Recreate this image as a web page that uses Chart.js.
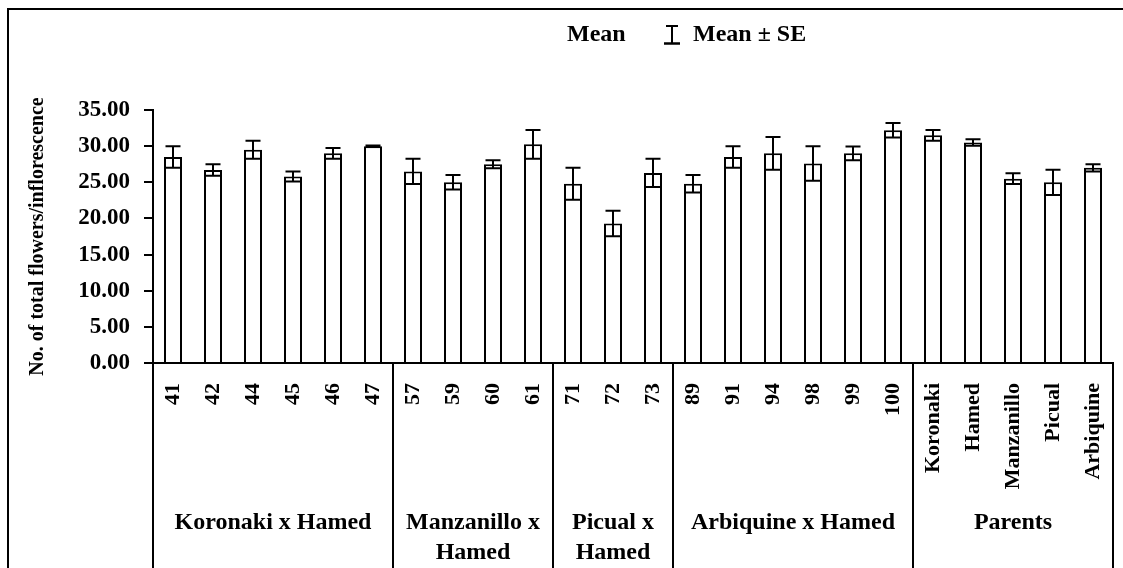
<!DOCTYPE html>
<html>
<head>
<meta charset="utf-8">
<script src="https://cdn.jsdelivr.net/npm/chart.js@4.4.1/dist/chart.umd.min.js"></script>
<style>
  html, body { margin: 0; padding: 0; background: #fff; }
  #wrap { width: 1123px; height: 568px; position: relative; }
</style>
</head>
<body>
<div id="wrap"><canvas id="c" width="1123" height="568"></canvas></div>
<script>
// ---- data ----
const categories = ["41","42","44","45","46","47","57","59","60","61","71","72","73","89","91","94","98","99","100","Koronaki","Hamed","Manzanillo","Picual","Arbiquine"];
const meanValues = [28.5, 26.7, 29.5, 25.8, 29.0, 30.0, 26.5, 25.0, 27.5, 30.25, 24.8, 19.3, 26.3, 24.8, 28.5, 29.0, 27.6, 29.0, 32.2, 31.5, 30.5, 25.5, 25.0, 27.0];
const seValues   = [1.5, 0.8, 1.25, 0.7, 0.75, 0.1, 1.75, 1.0, 0.55, 2.0, 2.2, 1.75, 1.95, 1.2, 1.5, 2.25, 2.4, 0.95, 1.0, 0.75, 0.45, 0.75, 1.75, 0.5];
const groupLabels = [["Koronaki x Hamed"], ["Manzanillo x", "Hamed"], ["Picual x", "Hamed"], ["Arbiquine x Hamed"], ["Parents"]];
const groupSizes = [6, 4, 3, 6, 5];
const yTickMin = 0, yTickMax = 35, yTickStep = 5;
const yAxisTitle = "No. of total flowers/inflorescence";
const legendMean = "Mean";
const legendSE = "Mean \u00b1 SE";

const FONT = "'Liberation Serif', 'Times New Roman', serif";

const framePlugin = {
  id: 'frame',
  beforeDraw(chart) {
    const ctx = chart.ctx;
    ctx.save();
    ctx.fillStyle = '#fff';
    ctx.fillRect(0, 0, chart.width, chart.height);
    ctx.strokeStyle = '#000';
    ctx.lineWidth = 2;
    ctx.strokeRect(8, 9, chart.width + 20, chart.height + 20);
    ctx.restore();
  }
};

const errorBarPlugin = {
  id: 'errorBars',
  afterDatasetsDraw(chart) {
    const ctx = chart.ctx;
    const y = chart.scales.y;
    const meta = chart.getDatasetMeta(0);
    ctx.save();
    ctx.strokeStyle = '#000';
    ctx.lineWidth = 2;
    const cap = 7.5;
    meta.data.forEach((bar, i) => {
      const m = meanValues[i], s = seValues[i];
      const yt = y.getPixelForValue(m + s);
      const yb = y.getPixelForValue(m - s);
      const x = bar.x;
      ctx.beginPath();
      ctx.moveTo(x, yt); ctx.lineTo(x, yb);
      ctx.moveTo(x - cap, yt); ctx.lineTo(x + cap, yt);
      ctx.moveTo(x - cap, yb); ctx.lineTo(x + cap, yb);
      ctx.stroke();
    });
    ctx.restore();
  }
};

const groupPlugin = {
  id: 'groups',
  afterDraw(chart) {
    const ctx = chart.ctx;
    const xs = chart.scales.x;
    const top = chart.chartArea.bottom;
    const bottom = chart.height + 5;
    ctx.save();
    ctx.strokeStyle = '#000';
    ctx.lineWidth = 2;
    let start = 0;
    const bounds = [xs.getPixelForValue(-0.5)];
    groupSizes.forEach(n => { start += n; bounds.push(xs.getPixelForValue(start - 0.5)); });
    bounds.forEach(bx => {
      ctx.beginPath(); ctx.moveTo(bx, top); ctx.lineTo(bx, bottom); ctx.stroke();
    });
    ctx.fillStyle = '#000';
    ctx.font = 'bold 24px ' + FONT;
    ctx.textAlign = 'center';
    ctx.textBaseline = 'middle';
    groupLabels.forEach((lines, g) => {
      const cx = (bounds[g] + bounds[g + 1]) / 2;
      lines.forEach((t, k) => ctx.fillText(t, cx, 523 + k * 30));
    });
    // legend
    ctx.textAlign = 'left';
    ctx.font = 'bold 24px ' + FONT;
    ctx.fillText(legendMean, 567, 35);
    ctx.beginPath();
    ctx.moveTo(672, 26); ctx.lineTo(672, 43);
    ctx.moveTo(666, 26); ctx.lineTo(678, 26);
    ctx.stroke();
    ctx.lineWidth = 2.5;
    ctx.beginPath();
    ctx.moveTo(664, 43.5); ctx.lineTo(680, 43.5);
    ctx.stroke();
    ctx.fillText(legendSE, 693, 35);
    ctx.restore();
  }
};

new Chart(document.getElementById('c'), {
  type: 'bar',
  data: {
    labels: categories,
    datasets: [{
      label: legendMean,
      data: meanValues,
      backgroundColor: '#fff',
      borderColor: '#000',
      borderWidth: 2,
      barPercentage: 0.45,
      categoryPercentage: 1.0
    }]
  },
  options: {
    responsive: false,
    animation: false,
    layout: { padding: { top: 110, right: 10, bottom: 0, left: 0 } },
    plugins: { legend: { display: false }, tooltip: { enabled: false } },
    scales: {
      x: {
        offset: true,
        grid: { display: false },
        border: { display: true, color: '#000', width: 2 },
        ticks: {
          color: '#000',
          font: { family: FONT, size: 22, weight: 'bold' },
          minRotation: 90, maxRotation: 90,
          padding: 12,
          autoSkip: false
        },
        afterFit(scale) { scale.height = 205; scale.paddingLeft = 0; scale.paddingRight = 0; }
      },
      y: {
        min: yTickMin, max: yTickMax,
        grid: { display: true, drawOnChartArea: false, drawTicks: true, tickLength: 9, color: '#000', lineWidth: 2 },
        border: { display: true, color: '#000', width: 2 },
        ticks: {
          stepSize: yTickStep,
          color: '#000',
          padding: 14,
          font: { family: FONT, size: 23, weight: 'bold' },
          callback: v => Number(v).toFixed(2)
        },
        title: {
          display: true,
          text: yAxisTitle,
          color: '#000',
          font: { family: FONT, size: 20, weight: 'bold' },
          padding: { top: 26, bottom: 0 }
        },
        afterFit(scale) { scale.width = 153; }
      }
    }
  },
  plugins: [framePlugin, errorBarPlugin, groupPlugin]
});
</script>
</body>
</html>
